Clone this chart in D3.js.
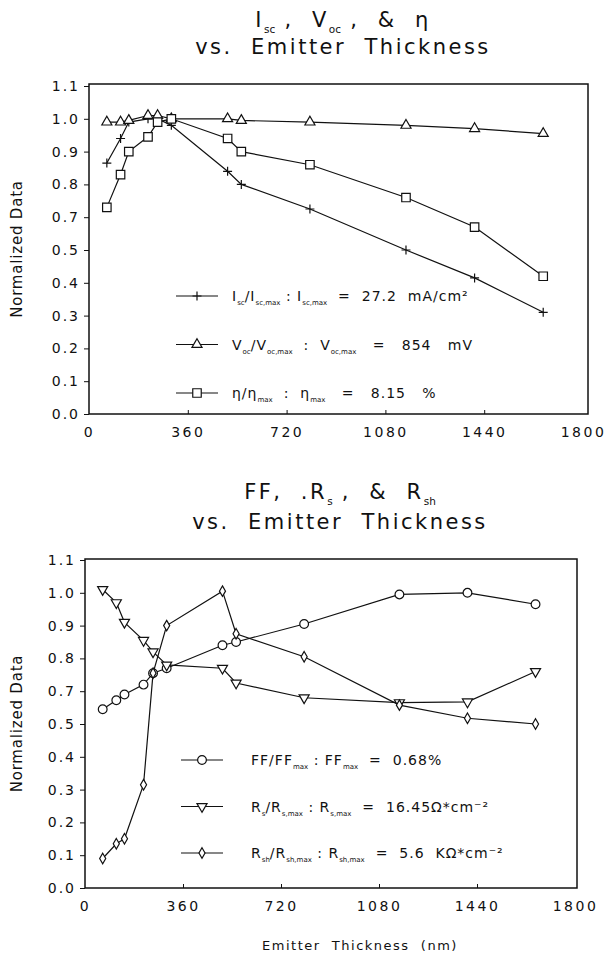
<!DOCTYPE html>
<html>
<head>
<meta charset="utf-8">
<script src="https://cdn.jsdelivr.net/npm/d3@7/dist/d3.min.js"></script>
<style>
  body { margin: 0; background: #fff; }
  text { font-family: "DejaVu Sans", sans-serif; fill: #111; white-space: pre; }
</style>
</head>
<body>
<svg id="chart" width="609" height="959"></svg>
<script>
// emitter thickness (nm), shared by every series
const thickness = [65, 115, 145, 215, 250, 300, 505, 555, 805, 1155, 1405, 1655];

// top panel
const iscNorm = [0.865, 0.94, 0.99, 1.0, 1.0, 0.98, 0.84, 0.80, 0.725, 0.50, 0.415, 0.31];
const vocNorm = [0.99, 0.99, 0.995, 1.01, 1.01, 1.0, 1.0, 0.995, 0.99, 0.98, 0.97, 0.955];
const etaNorm = [0.73, 0.83, 0.90, 0.945, 0.99, 1.0, 0.94, 0.90, 0.86, 0.76, 0.64, 0.42];

// bottom panel
const ffNorm = [0.59, 0.645, 0.68, 0.72, 0.755, 0.77, 0.84, 0.85, 0.905, 0.995, 1.0, 0.965];
const rsNorm = [1.01, 0.97, 0.91, 0.855, 0.82, 0.78, 0.77, 0.725, 0.66, 0.63, 0.635, 0.76];
const rshNorm = [0.09, 0.135, 0.15, 0.315, 0.755, 0.90, 1.005, 0.875, 0.805, 0.615, 0.535, 0.50];

// tick labels as printed (the 0.6 label is absent, labels are evenly spaced)
const xTicks = [0, 360, 720, 1080, 1440, 1800];
const yTicks = [0.0, 0.1, 0.2, 0.3, 0.4, 0.5, 0.7, 0.8, 0.9, 1.0, 1.1];

const svg = d3.select('#chart');

// small helper: text made of [string, isSubscript] pieces
function richText(g, x, y, parts, size, spacing, anchor) {
    const t = g.append('text')
        .attr('x', x)
        .attr('y', y)
        .attr('text-anchor', anchor || 'start')
        .style('font-size', size + 'px')
        .style('letter-spacing', spacing + 'px');
    let sub = false;
    parts.forEach(p => {
        const isSub = !!p[1];
        const shift = size * 0.3;
        t.append('tspan')
            .attr('dy', isSub === sub ? 0 : (isSub ? shift : -shift))
            .style('font-size', isSub ? (size * 0.5) + 'px' : null)
            .style('letter-spacing', isSub ? '0px' : null)
            .text(p[0]);
        sub = isSub;
    });
    return t;
}

const markers = {
    cross: 'M-4.5,0H4.5M0,-4.5V4.5',
    triangle: d3.symbol(d3.symbolTriangle, 44)(),
    square: d3.symbol(d3.symbolSquare, 72)(),
    circle: d3.symbol(d3.symbolCircle, 60)(),
    down: d3.symbol(d3.symbolTriangle, 44)(),
    diamond: d3.symbol(d3.symbolDiamond, 32)()
};

function drawMarker(g, type, x, y) {
    g.append('path')
        .attr('d', markers[type])
        .attr('transform', `translate(${x},${y})` + (type === 'down' ? ' rotate(180)' : ''))
        .attr('fill', type === 'cross' ? 'none' : '#fff')
        .attr('stroke', '#111')
        .attr('stroke-width', 1.2);
}

function panel(cfg) {
    const g = svg.append('g');

    const xScale = d3.scaleLinear()
        .domain([0, 1800])
        .range([cfg.left, cfg.xEnd]);

    // labels are evenly spaced, so map each printed tick onto its slot
    const yScale = d3.scaleLinear()
        .domain(yTicks)
        .range(yTicks.map((d, i) => cfg.bottom - i * cfg.step));

    // frame
    g.append('rect')
        .attr('x', cfg.left)
        .attr('y', cfg.top)
        .attr('width', cfg.right - cfg.left)
        .attr('height', cfg.bottom - cfg.top)
        .attr('fill', 'none')
        .attr('stroke', '#111')
        .attr('stroke-width', 1.5);

    const xAxis = d3.axisBottom(xScale)
        .tickValues(xTicks)
        .tickSize(-4)
        .tickPadding(13)
        .tickFormat(d3.format('d'));

    const xg = g.append('g')
        .attr('transform', `translate(0,${cfg.bottom})`)
        .call(xAxis);
    xg.select('.domain').remove();
    xg.selectAll('.tick line')
        .attr('stroke', '#111')
        .filter(d => d === 0 || d === 1800).remove();
    xg.selectAll('.tick text')
        .attr('fill', '#111')
        .style('font-family', '"DejaVu Sans", sans-serif')
        .style('font-size', '14px')
        .style('letter-spacing', '2.5px')
        .attr('dy', '0.71em');

    const yAxis = d3.axisLeft(yScale)
        .tickValues(yTicks)
        .tickSize(5)
        .tickPadding(4)
        .tickFormat(d3.format('.1f'));

    const yg = g.append('g')
        .attr('transform', `translate(${cfg.left},0)`)
        .call(yAxis);
    yg.select('.domain').remove();
    yg.selectAll('.tick line').attr('stroke', '#111');
    yg.selectAll('.tick text')
        .attr('fill', '#111')
        .style('font-family', '"DejaVu Sans", sans-serif')
        .style('font-size', '14px')
        .style('letter-spacing', '2px');

    g.append('text')
        .attr('transform', `translate(17,${(cfg.top + cfg.bottom) / 2}) rotate(-90)`)
        .attr('text-anchor', 'middle')
        .attr('dy', '0.35em')
        .style('font-size', '15px')
        .style('letter-spacing', '0.8px')
        .text('Normalized Data');

    const line = d3.line()
        .x(d => xScale(d[0]))
        .y(d => yScale(d[1]));

    cfg.series.forEach(s => {
        const pts = thickness.map((t, i) => [t, s.values[i]]);
        g.append('path')
            .datum(pts)
            .attr('d', line)
            .attr('fill', 'none')
            .attr('stroke', '#111')
            .attr('stroke-width', 1.2);
        pts.forEach(p => drawMarker(g, s.marker, xScale(p[0]), yScale(p[1])));
    });

    // legend
    cfg.series.forEach((s, i) => {
        const ly = cfg.legendY + i * cfg.legendGap;
        g.append('line')
            .attr('x1', cfg.legendX)
            .attr('x2', cfg.legendX + 42)
            .attr('y1', ly)
            .attr('y2', ly)
            .attr('stroke', '#111')
            .attr('stroke-width', 1.2);
        drawMarker(g, s.marker, cfg.legendX + 21, ly);
        richText(g, cfg.legendText, ly + 5, s.label, 14, 1);
    });

    cfg.title.forEach((parts, i) => {
        richText(g, cfg.titleX, cfg.titleY[i], parts, 21, 2.5, 'middle');
    });
}

panel({
    left: 89, xEnd: 583, right: 588, top: 84, bottom: 414, step: 32.8,
    legendX: 176, legendText: 232, legendY: 296, legendGap: 48.5,
    titleX: 343, titleY: [27, 54],
    title: [
        [['I'], ['sc', 1], [' ,  V'], ['oc', 1], [' ,  &  η']],
        [['vs.  Emitter  Thickness']]
    ],
    series: [
        { values: iscNorm, marker: 'cross',
          label: [['I'], ['sc', 1], ['/I'], ['sc,max', 1], [' : I'], ['sc,max', 1], ['  =  27.2  mA/cm²']] },
        { values: vocNorm, marker: 'triangle',
          label: [['V'], ['oc', 1], ['/V'], ['oc,max', 1], ['  :  V'], ['oc,max', 1], ['   =   854   mV']] },
        { values: etaNorm, marker: 'square',
          label: [['η/η'], ['max', 1], ['  :  η'], ['max', 1], ['   =   8.15   %']] }
    ]
});

panel({
    left: 85, xEnd: 575, right: 577, top: 559, bottom: 888, step: 32.8,
    legendX: 181, legendText: 251, legendY: 760, legendGap: 46.5,
    titleX: 340, titleY: [499, 529],
    title: [
        [['FF,  .R'], ['s', 1], [' ,  &  R'], ['sh', 1]],
        [['vs.  Emitter  Thickness']]
    ],
    series: [
        { values: ffNorm, marker: 'circle',
          label: [['FF/FF'], ['max', 1], [' : FF'], ['max', 1], ['  =  0.68%']] },
        { values: rsNorm, marker: 'down',
          label: [['R'], ['s', 1], ['/R'], ['s,max', 1], [' : R'], ['s,max', 1], ['  =  16.45Ω*cm⁻²']] },
        { values: rshNorm, marker: 'diamond',
          label: [['R'], ['sh', 1], ['/R'], ['sh,max', 1], [' : R'], ['sh,max', 1], ['  =  5.6  KΩ*cm⁻²']] }
    ]
});

svg.append('text')
    .attr('x', 360)
    .attr('y', 950)
    .attr('text-anchor', 'middle')
    .style('font-size', '13px')
    .style('letter-spacing', '1.5px')
    .text('Emitter  Thickness  (nm)');
</script>
</body>
</html>
